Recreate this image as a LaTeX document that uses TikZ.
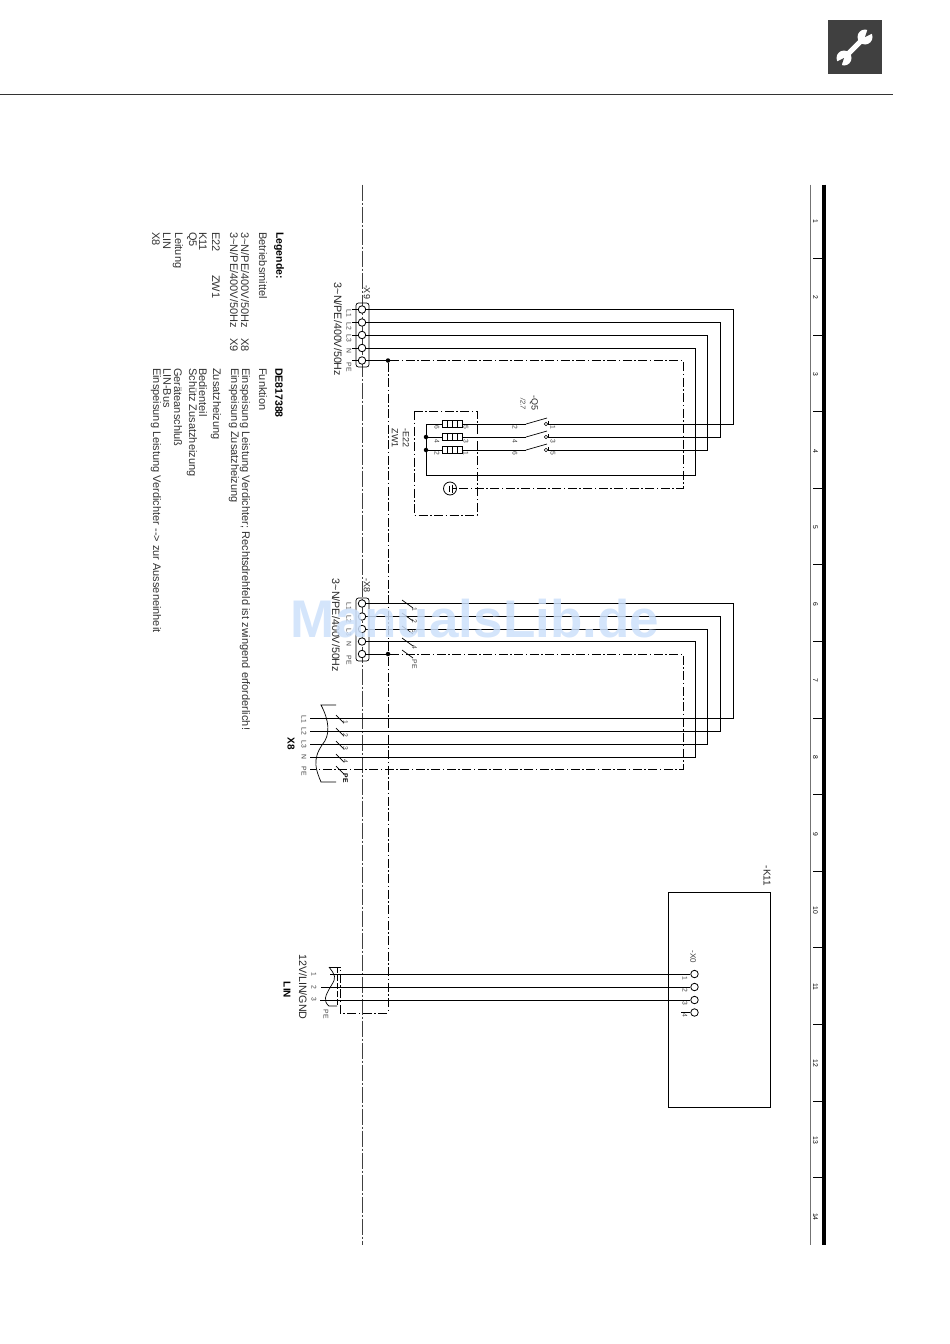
\documentclass[tikz,border=0pt]{standalone}
\usepackage{fontspec}
\setmainfont{Liberation Sans}
\begin{document}
\begin{tikzpicture}[x=1pt, y=-1pt]

% Styles
\tikzstyle{wire}   = [line width=0.85pt]
\tikzstyle{pe}     = [line width=0.8pt, dash pattern=on 9pt off 2.5pt on 1.5pt off 2.5pt]
\tikzstyle{axis}   = [line width=0.5pt, black!75, dash pattern=on 16pt off 2pt on 2pt off 2pt]
\tikzstyle{term}   = [draw, circle, fill=white, line width=0.8pt, inner sep=0pt, minimum size=7.5pt]
\tikzstyle{dot}    = [circle, fill=black, inner sep=0pt, minimum size=4.5pt]
\tikzstyle{contact}= [draw, circle, line width=0.6pt, inner sep=0pt, minimum size=3.5pt]
\tikzstyle{slash}  = [line width=0.7pt]
\tikzstyle{heater} = [draw, line width=0.7pt, inner sep=0pt, minimum width=20pt, minimum height=7pt,
                      path picture={\draw (path picture bounding box.north) -- (path picture bounding box.south);
                      \draw ([xshift=-5pt]path picture bounding box.north) -- ([xshift=-5pt]path picture bounding box.south);
                      \draw ([xshift=5pt]path picture bounding box.north) -- ([xshift=5pt]path picture bounding box.south);}]
\tikzstyle{tiny}   = [rotate=-90, inner sep=0pt, text=black!75, font=\fontsize{6.8}{8}\selectfont]
\tikzstyle{small}  = [rotate=-90, inner sep=0pt, text=black!85, font=\fontsize{9}{10}\selectfont]
\tikzstyle{volt}   = [rotate=-90, inner sep=0pt, text=black!85, font=\fontsize{10.7}{12}\selectfont]
\tikzstyle{legend} = [rotate=-90, inner sep=0pt, anchor=west, text=black!80, font=\fontsize{11}{12}\selectfont]
\tikzstyle{legbold}= [legend, text=black, font=\fontsize{10.5}{12}\selectfont\bfseries]

\useasboundingbox (0,0) rectangle (950,1344);

% Header
\node [draw=none, fill=black!75, minimum size=54pt, inner sep=0pt] (tool) at (855,47) {};
\coordinate (hdl) at (0,94.5);
\coordinate (hdr) at (893,94.5);
\draw [line width=0.8pt, black!80] (hdl) -- (hdr);
\coordinate (jawa) at (865,37);
\coordinate (jawb) at (844,58);
\draw [white, line width=5pt] (jawa) -- (jawb);
\fill [white] (jawa) circle (7.5);
\fill [white] (jawb) circle (7.5);
\fill [black!75] (jawa) -- ++(3,-9) -- ++(9,3) -- cycle;
\fill [black!75] (jawb) -- ++(-3,9) -- ++(-9,-3) -- cycle;

% Sheet ruler
\coordinate (rgt) at (810,184.5);
\coordinate (rgb) at (810,1245);
\coordinate (rbt) at (824,184.5);
\coordinate (rbb) at (824,1245);
\draw [line width=1pt, black!55] (rgt) -- (rgb);
\draw [line width=3.5pt] (rbt) -- (rbb);
\foreach \n in {0,...,12}
  \draw [line width=0.8pt] (813,258.4+76.6*\n) -- (823,258.4+76.6*\n);
\foreach \n in {1,...,14}
  \node [tiny, text=black] (page\n) at (815.5,144.5+76.6*\n) {\n};

% Centre line
\coordinate (axt) at (362,184.5);
\coordinate (axb) at (362,1245);
\draw [axis] (axt) -- (axb);

% Legend
\node [legbold] (leghead) at (279,232) {Legende:};
\node [legbold] (legno)   at (279,368) {DE817388};
\node [legend] (legbm)  at (263,232) {Betriebsmittel};
\node [legend] (legfn)  at (263,368) {Funktion};
\node [legend] (lega)   at (245,232) {3\textasciitilde N/PE/400V/50Hz};
\node [legend] (legax)  at (245,338) {X8};
\node [legend] (legat)  at (245,368) {Einspeisung Leistung Verdichter; Rechtsdrehfeld ist zwingend erforderlich!};
\node [legend] (legb)   at (234,232) {3\textasciitilde N/PE/400V/50Hz};
\node [legend] (legbx)  at (234,338) {X9};
\node [legend] (legbt)  at (234,368) {Einspeisung Zusatzheizung};
\node [legend] (legc)   at (216,232) {E22};
\node [legend] (legcz)  at (216,275) {ZW1};
\node [legend] (legct)  at (216,368) {Zusatzheizung};
\node [legend] (legd)   at (203,232) {K11};
\node [legend] (legdt)  at (203,368) {Bedienteil};
\node [legend] (lege)   at (192,232) {Q5};
\node [legend] (leget)  at (192,368) {Schütz Zusatzheizung};
\node [legend] (legf)   at (178,232) {Leitung};
\node [legend] (legft)  at (178,368) {Geräteanschluß};
\node [legend] (legg)   at (167,232) {LIN};
\node [legend] (leggt)  at (167,368) {LIN-Bus};
\node [legend] (legh)   at (156,232) {X8};
\node [legend] (leght)  at (156,368) {Einspeisung Leistung Verdichter {-}{-}> zur Ausseneinheit};

% Terminal strip X9
\node [draw, rounded corners=2.5pt, line width=0.7pt, minimum width=13pt, minimum height=64pt, inner sep=0pt] (x9box) at (362.5,335) {};
\node [term] (x9a) at (362,309.5) {};
\node [term] (x9b) at (362,322.5) {};
\node [term] (x9c) at (362,335) {};
\node [term] (x9d) at (362,348) {};
\node [term] (x9e) at (362,360.5) {};
\node [small] (x9name) at (367,292) {-X9};
\node [volt]  (x9volt) at (338,329.5) {3\textasciitilde N/PE/400V/50Hz};
\node [tiny] (x9la) at (349,313) {L1};
\node [tiny] (x9lb) at (349,326) {L2};
\node [tiny] (x9lc) at (349,338) {L3};
\node [tiny] (x9ld) at (349,351) {N};
\node [tiny] (x9le) at (349,367) {PE};
\draw [wire] (x9a.west) -- ++(-6,0);
\draw [wire] (x9b.west) -- ++(-6,0);
\draw [wire] (x9c.west) -- ++(-6,0);
\draw [wire] (x9d.west) -- ++(-6,0);
\draw [wire] (x9e.west) -- ++(-6,0);

% Terminal strip X8
\node [draw, rounded corners=2.5pt, line width=0.7pt, minimum width=13pt, minimum height=63pt, inner sep=0pt] (x8box) at (362.5,629.5) {};
\node [term] (x8a) at (362,603.5) {};
\node [term] (x8b) at (362,616.5) {};
\node [term] (x8c) at (362,629) {};
\node [term] (x8d) at (362,641.5) {};
\node [term] (x8e) at (362,654) {};
\node [small] (x8name) at (367,585) {-X8};
\node [volt]  (x8volt) at (336,625.5) {3\textasciitilde N/PE/400V/50Hz};
\node [tiny] (x8la) at (349,606) {L1};
\node [tiny] (x8lb) at (349,619) {L2};
\node [tiny] (x8lc) at (349,632) {L3};
\node [tiny] (x8ld) at (349,644) {N};
\node [tiny] (x8le) at (349,660) {PE};

% Contactor Q5
\node [small] (q5name) at (534,403) {-Q5};
\node [tiny, font=\fontsize{7}{8}\itshape] (q5ref) at (523,404) {/2.7};
\coordinate (q5ba) at (526,424);
\coordinate (q5bb) at (526,437);
\coordinate (q5bc) at (526,450);
\coordinate (q5ea) at (547,418);
\coordinate (q5eb) at (547,431);
\coordinate (q5ec) at (547,444);
\node [contact] (q5ka) at (546,424) {};
\node [contact] (q5kb) at (546,437) {};
\node [contact] (q5kc) at (546,450) {};
\draw [slash] (q5ba) -- (q5ea);
\draw [slash] (q5bb) -- (q5eb);
\draw [slash] (q5bc) -- (q5ec);
\draw [slash] (q5ka.east) -- ++(0,-3.5);
\draw [slash] (q5kb.east) -- ++(0,-3.5);
\draw [slash] (q5kc.east) -- ++(0,-3.5);
\node [tiny] (q5pa) at (515,427) {2};
\node [tiny] (q5pb) at (515,441) {4};
\node [tiny] (q5pc) at (515,453) {6};
\node [tiny] (q5pd) at (553,427) {1};
\node [tiny] (q5pe) at (553,441) {3};
\node [tiny] (q5pf) at (553,453) {5};

% Auxiliary heater E22
\coordinate (e22a) at (414,411);
\coordinate (e22b) at (477,515);
\draw [pe] (e22a) rectangle (e22b);
\node [small] (e22name) at (406,438) {-E22};
\node [small] (e22zw)   at (395,438) {ZW1};
\node [heater] (ra) at (452,424) {};
\node [heater] (rb) at (452,437) {};
\node [heater] (rc) at (452,450) {};
\coordinate (star) at (426,475.5);
\coordinate (stara) at (426,424);
\node [dot] (starb) at (426,437) {};
\node [dot] (starc) at (426,450) {};
\node [tiny] (rpa) at (437,427) {6};
\node [tiny] (rpb) at (437,441) {4};
\node [tiny] (rpc) at (437,453) {2};
\node [tiny] (rpd) at (466,427) {5};
\node [tiny] (rpe) at (466,441) {3};
\node [tiny] (rpf) at (466,453) {1};
\draw [wire] (ra.west) -- (stara) -- (star);
\draw [wire] (rb.west) -- (starb);
\draw [wire] (rc.west) -- (starc);
\draw [wire] (ra.east) -- (q5ba);
\draw [wire] (rb.east) -- (q5bb);
\draw [wire] (rc.east) -- (q5bc);
\node [draw, circle, line width=0.8pt, inner sep=0pt, minimum size=13pt] (earth) at (450,488.5) {};
\coordinate (earthi) at (452,488.5);
\coordinate (earthj) at (449,488.5);
\draw [slash] (earth.east) -- (earthi);
\draw [slash] (earthi) ++(0,-4) -- ++(0,8);
\draw [slash] (earthj) ++(0,-3) -- ++(0,6);

% Feed X9 to Q5 and E22
\coordinate (cka) at (733,424);
\coordinate (ckb) at (720,437);
\coordinate (ckc) at (707,450);
\coordinate (ckd) at (695,475.5);
\coordinate (cke) at (683,488.5);
\draw [wire] (x9a) -| (cka) -- (q5ka);
\draw [wire] (x9b) -| (ckb) -- (q5kb);
\draw [wire] (x9c) -| (ckc) -- (q5kc);
\draw [wire] (x9d) -| (ckd) -- (star);
\node [dot] (pea) at (388,360.5) {};
\draw [wire] (x9e) -- (pea);
\draw [pe] (pea) -| (cke) -- (earth);

% Feed X8 to cable X8
\coordinate (cba) at (733,718);
\coordinate (cbb) at (720,731);
\coordinate (cbc) at (707,744);
\coordinate (cbd) at (695,757);
\coordinate (cbe) at (683,769.5);
\coordinate (ina) at (310,718);
\coordinate (inb) at (310,731);
\coordinate (inc) at (310,744);
\coordinate (ind) at (310,757);
\coordinate (ine) at (310,769.5);
\draw [wire] (x8a) -| (cba) -- (ina);
\draw [wire] (x8b) -| (cbb) -- (inb);
\draw [wire] (x8c) -| (cbc) -- (inc);
\draw [wire] (x8d) -| (cbd) -- (ind);
\node [dot] (peb) at (388,654) {};
\draw [wire] (x8e) -- (peb);
\draw [pe] (peb) -| (cbe) -- (ine);

% Slashes on X8 conductors
\draw [slash] (402,600) -- (413,608);
\draw [slash] (402,613) -- (413,621);
\draw [slash] (402,626) -- (413,634);
\draw [slash] (402,638) -- (413,646);
\draw [slash] (402,650) -- (413,658);
\node [tiny] (sla) at (414.5,609) {1};
\node [tiny] (slb) at (414.5,621) {2};
\node [tiny] (slc) at (414.5,631) {3};
\node [tiny] (sld) at (414.5,647) {4};
\node [tiny] (sle) at (414.5,664) {PE};

% Cable X8
\coordinate (caa) at (336,705);
\coordinate (cab) at (321,705);
\coordinate (cac) at (321,782);
\coordinate (cad) at (336,782);
\draw [slash] (caa) -- (cab) .. controls (329,720) and (331,735) .. (322,745) .. controls (312,760) and (316,770) .. (cac) -- (cad);
\draw [slash] (336,715) -- (344,723);
\draw [slash] (336,728) -- (344,736);
\draw [slash] (336,741) -- (344,749);
\draw [slash] (336,754) -- (344,762);
\draw [slash] (336,766) -- (344,774);
\node [tiny] (caa1) at (345.5,722) {1};
\node [tiny] (caa2) at (345.5,735) {2};
\node [tiny] (caa3) at (345.5,748) {3};
\node [tiny] (caa4) at (345.5,761) {4};
\node [tiny, text=black, font=\fontsize{6.8}{8}\selectfont\bfseries] (caa5) at (345.5,778) {PE};
\node [tiny] (cal1) at (304,719) {L1};
\node [tiny] (cal2) at (304,731) {L2};
\node [tiny] (cal3) at (304,744) {L3};
\node [tiny] (cal4) at (304,757) {N};
\node [tiny] (cal5) at (304,771) {PE};
\node [rotate=-90, inner sep=0pt, font=\fontsize{10}{11}\selectfont\bfseries] (x8bold) at (291,744) {X8};

% Control unit K11
\node [draw, wire, minimum width=102pt, minimum height=215pt, inner sep=0pt] (k11) at (719,999.5) {};
\node [small, font=\fontsize{10}{11}\selectfont] (k11name) at (767,876) {-K11};
\node [tiny, font=\fontsize{8}{9}\selectfont] (x0name) at (693,957) {-X0};
\node [term, fill=none] (x0a) at (694.5,974) {};
\node [term, fill=none] (x0b) at (694.5,987) {};
\node [term, fill=none] (x0c) at (694.5,1000) {};
\node [term, fill=none] (x0d) at (694.5,1012.5) {};
\node [tiny] (x0p1) at (685,978) {1};
\node [tiny] (x0p2) at (685,990) {2};
\node [tiny] (x0p3) at (685,1003) {3};
\node [tiny] (x0p4) at (685,1015) {4};
\draw [wire] (x0d.west) -- ++(-9,0);

% Cable LIN
\coordinate (lina) at (330,974);
\coordinate (linb) at (321,987);
\coordinate (linc) at (320,1000);
\coordinate (lind) at (329,967);
\coordinate (line) at (340,967);
\coordinate (linf) at (340,1013);
\coordinate (ling) at (388,1013);
\coordinate (linh) at (337,1006);
\coordinate (lini) at (329,1006);
\draw [wire] (x0a) -- (lina);
\draw [wire] (x0b) -- (linb);
\draw [wire] (x0c) -- (linc);
\draw [slash] (lind) -- (line);
\draw [slash] (lind) .. controls (335,975) and (337,977) .. (331,986) .. controls (325,996) and (323,1001) .. (lini) -- (linh);
\draw [pe] (pea) -- (ling) -- (linf) -- (line);
\draw [slash, dash pattern=on 6pt off 2pt] (337,967) -- (linh);
\node [tiny] (lin1) at (314,974) {1};
\node [tiny] (lin2) at (314,987) {2};
\node [tiny] (lin3) at (314,999) {3};
\node [tiny] (lin4) at (326,1014) {PE};
\node [rotate=-90, inner sep=0pt, text=black!85, font=\fontsize{10.7}{12}\selectfont] (linvolt) at (303,987) {12V/LIN/GND};
\node [rotate=-90, inner sep=0pt, font=\fontsize{10}{11}\selectfont\bfseries] (linbold) at (287,990) {LIN};

% Watermark
\definecolor{markblue}{RGB}{205,224,250}
\node [inner sep=0pt, text=markblue, opacity=0.85, font=\fontsize{53}{56}\selectfont\bfseries] (mark) at (475,619) {ManualsLib.de};

\end{tikzpicture}
\end{document}
